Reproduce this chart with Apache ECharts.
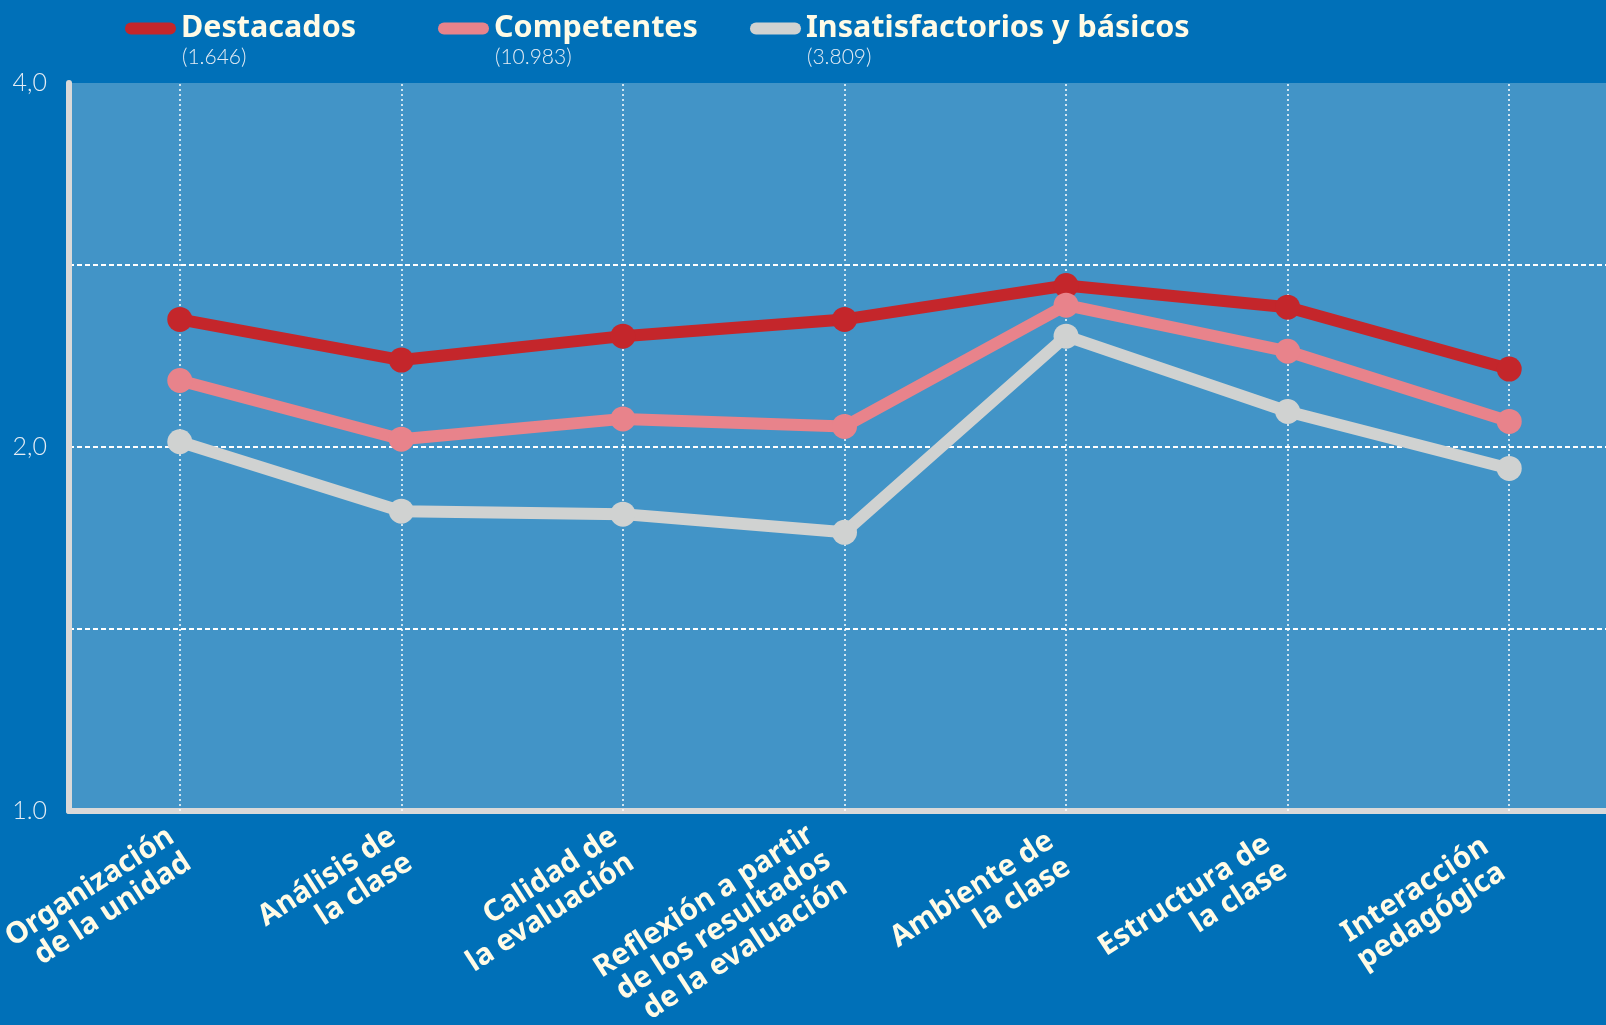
<!DOCTYPE html>
<html>
<head>
<meta charset="utf-8">
<script src="https://cdn.jsdelivr.net/npm/echarts@6/dist/echarts.min.js"></script>
<style>
  html, body { margin: 0; padding: 0; background: #0070b8; }
  #chart { width: 1606px; height: 1025px; }
</style>
</head>
<body>
<div id="chart"></div>
<script>
// datos (promedio por dimensión)
var categorias = [
  "Organización\nde la unidad",
  "Análisis de\nla clase",
  "Calidad de\nla evaluación",
  "Reflexión a partir\nde los resultados\nde la evaluación",
  "Ambiente de\nla clase",
  "Estructura de\nla clase",
  "Interacción\npedagógica"
];
var grupos = ["Destacados", "Competentes", "Insatisfactorios y básicos"];
var totales = ["(1.646)", "(10.983)", "(3.809)"];
var destacados = [2.55, 2.36, 2.47, 2.55, 2.72, 2.61, 2.32];
var competentes = [2.27, 2.03, 2.11, 2.08, 2.62, 2.40, 2.10];
var insatisfactorios = [2.02, 1.77, 1.76, 1.70, 2.47, 2.14, 1.92];
var etiquetasY = { 1: "1.0", 2: "2,0", 4: "4,0" };

var colores = ["#c4262b", "#e8838b", "#d0d2d1"];
var crema = "#fffbe6";

// ajuste fino de cada etiqueta del eje x (padding izq / der, px)
var ajusteEtiqueta = [[0, 0, 0, 10], [0, 0, 0, 5], 0, [0, 20, 0, 0], [0, 8, 0, 0], [0, 14, 0, 0], [0, 18, 0, 0]];

var myChart = echarts.init(document.getElementById("chart"));

function serie (name, data, color) {
  return {
    name: name,
    type: "line",
    data: data,
    symbol: "circle",
    symbolSize: 25,
    lineStyle: { color: color, width: 12 },
    itemStyle: { color: color },
    z: 3
  };
}

var capsula = "path://M6,0 H45 A6,6 0 0 1 45,12 H6 A6,6 0 0 1 6,0 Z";
var legendLeft = [125, 438, 750];

var option = {
  backgroundColor: "#0070b8",
  animation: false,
  grid: {
    left: 69,
    width: 1551,
    top: 83,
    bottom: 214,
    show: true,
    backgroundColor: "#4294c7",
    borderWidth: 0,
    containLabel: false,
    outerBoundsMode: "none"
  },
  legend: grupos.map(function (g, i) {
    return {
      data: [g],
      left: legendLeft[i],
      top: 13,
      padding: 0,
      icon: capsula,
      itemWidth: 51,
      itemHeight: 12,
      textStyle: {
        color: crema,
        fontSize: 30.5,
        fontWeight: "bold",
        fontFamily: "Noto Sans"
      }
    };
  }),
  graphic: totales.map(function (t, i) {
    return {
      type: "text",
      left: legendLeft[i] + 57,
      top: 47,
      style: {
        text: t,
        fill: "#e4ecf4",
        fontSize: 21,
        fontWeight: 300,
        fontFamily: "Lato"
      }
    };
  }),
  xAxis: {
    type: "category",
    data: categorias.map(function (c, i) {
      return { value: c, textStyle: { padding: ajusteEtiqueta[i] } };
    }),
    axisLine: { lineStyle: { color: "#d9d9d9", width: 6 } },
    axisTick: { show: false },
    splitLine: { show: false },
    axisLabel: {
      rotate: 33,
      margin: 36,
      color: crema,
      fontSize: 29.5,
      lineHeight: 31,
      fontWeight: "bold",
      fontFamily: "Noto Sans",
      interval: 0,
      hideOverlap: false
    }
  },
  yAxis: {
    type: "log",
    logBase: Math.SQRT2,
    min: 1,
    max: 4,
    axisLine: { show: true, lineStyle: { color: "#d9d9d9", width: 6 } },
    axisTick: { show: false },
    splitLine: {
      show: true,
      showMaxLine: false,
      lineStyle: { color: "#ffffff", width: 2, type: [5, 3] }
    },
    axisLabel: {
      margin: 22,
      color: "#e4ecf4",
      fontSize: 25,
      fontWeight: 300,
      fontFamily: "Lato",
      formatter: function (v) {
        var r = Math.round(v * 100) / 100;
        return etiquetasY[r] || "";
      }
    }
  },
  series: [
    {
      name: "guias",
      type: "line",
      data: [],
      silent: true,
      z: 1,
      markLine: {
        silent: true,
        symbol: "none",
        z: 1,
        label: { show: false },
        lineStyle: { color: "#ffffff", width: 1.5, type: [2, 3] },
        data: categorias.map(function (c) { return { xAxis: c }; })
      }
    },
    serie(grupos[0], destacados, colores[0]),
    serie(grupos[1], competentes, colores[1]),
    serie(grupos[2], insatisfactorios, colores[2])
  ]
};
option && myChart.setOption(option);
</script>
</body>
</html>
